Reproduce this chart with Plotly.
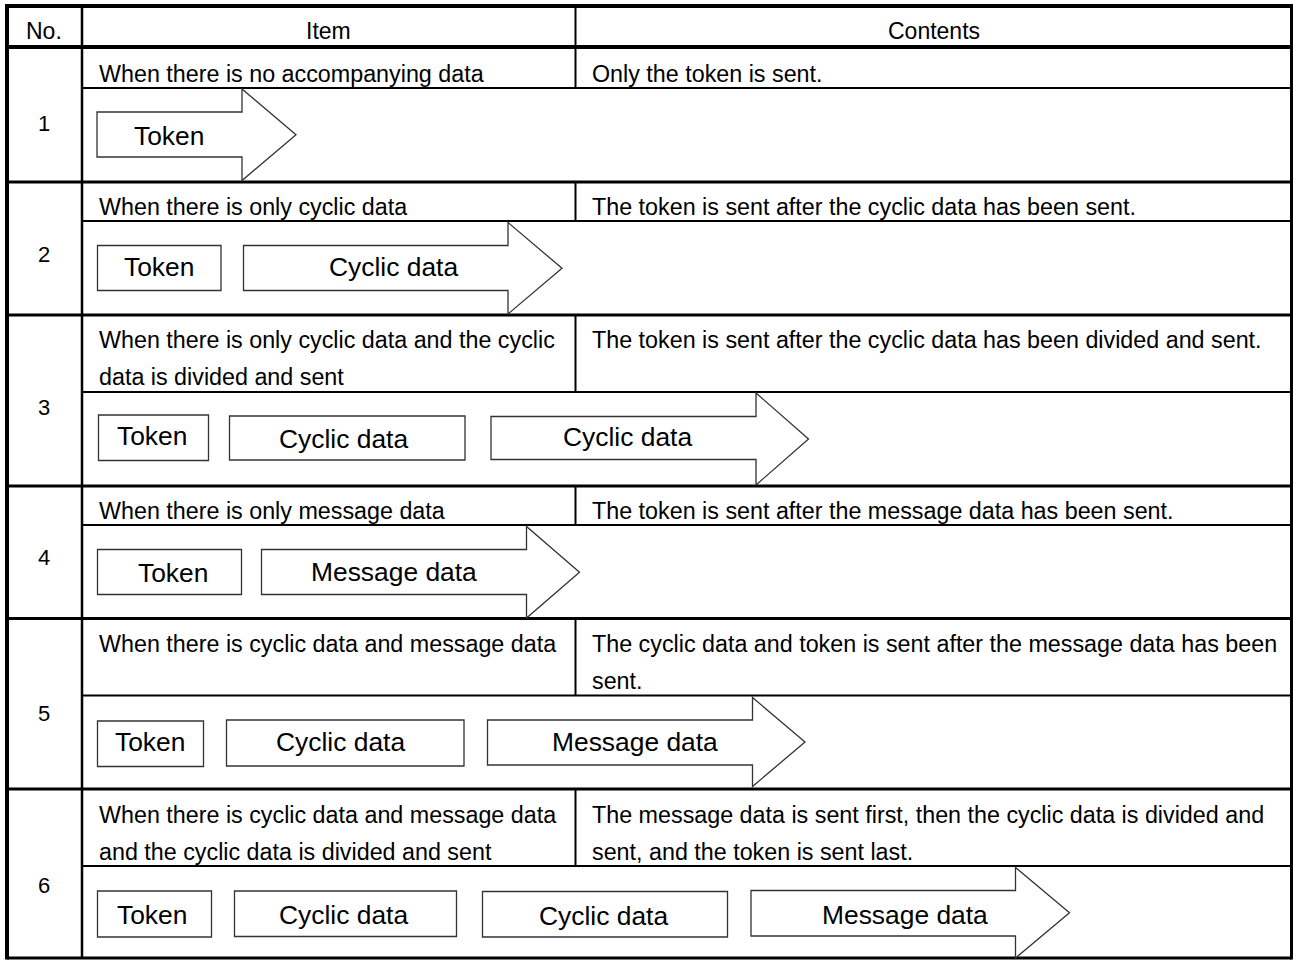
import plotly.graph_objects as go

# ---------------- data (text content) ----------------
headers = ["No.", "Item", "Contents"]
numbers = ["1", "2", "3", "4", "5", "6"]
items = [
    ["When there is no accompanying data"],
    ["When there is only cyclic data"],
    ["When there is only cyclic data and the cyclic", "data is divided and sent"],
    ["When there is only message data"],
    ["When there is cyclic data and message data"],
    ["When there is cyclic data and message data", "and the cyclic data is divided and sent"],
]
contents = [
    ["Only the token is sent."],
    ["The token is sent after the cyclic data has been sent."],
    ["The token is sent after the cyclic data has been divided and sent."],
    ["The token is sent after the message data has been sent."],
    ["The cyclic data and token is sent after the message data has been", "sent."],
    ["The message data is sent first, then the cyclic data is divided and",
     "sent, and the token is sent last."],
]
# frames in each row; the last one of each row is drawn as the arrow
sequences = [
    ["Token"],
    ["Token", "Cyclic data"],
    ["Token", "Cyclic data", "Cyclic data"],
    ["Token", "Message data"],
    ["Token", "Cyclic data", "Message data"],
    ["Token", "Cyclic data", "Cyclic data", "Message data"],
]

# ---------------- layout geometry (pixels) ----------------
W, H = 1293, 960
X0, X1, X2, X3 = 7, 82, 575.5, 1291.5
Y_TOP, Y_HEAD = 6, 47
# (row top, line under the item text, row bottom)
rows = [(47, 88, 182), (182, 221, 315), (315, 392, 486),
        (486, 525, 618.5), (618.5, 695.5, 789), (789, 866, 958)]
text_y = [[74], [207], [340, 376.5], [511], [644, 680.5], [815, 851.5]]
num_y = [123, 254, 407, 557, 713, 885]
# rectangles: (x0, x1, y0, y1)
boxes = [
    [],
    [(97.5, 221, 245.5, 290.5)],
    [(98.5, 208.5, 415, 460.5), (229.5, 465, 416, 460)],
    [(97.5, 241.5, 549.5, 594.5)],
    [(97.5, 203.5, 721, 766.5), (226.5, 464, 720, 766)],
    [(97.5, 211.5, 891, 937), (234.5, 456.5, 891, 936.5), (482.5, 727.5, 891.5, 937)],
]
# arrows: (left, body top, body bottom, head base x, head top, head bottom, tip x)
arrows = [
    (97, 112, 157, 242, 89, 180.5, 296),
    (243.5, 245.5, 290.5, 508, 222.5, 314, 562),
    (491, 416.5, 459.5, 756, 393, 485, 808.5),
    (261.5, 549.5, 594.5, 526.5, 526.5, 618, 579.5),
    (487.5, 720, 765, 752.5, 697.5, 786.5, 805),
    (751, 890.5, 936, 1015.5, 867.5, 958, 1069.5),
]
# label centres for each frame
label_pos = [
    [(169, 136)],
    [(159, 267), (393, 267)],
    [(152, 436), (343, 439), (627, 437)],
    [(173, 573), (394, 572)],
    [(150, 742), (340, 742), (635, 742)],
    [(152, 915), (343, 915), (603, 916), (905, 915)],
]

FONT = "Arial, 'Liberation Sans', sans-serif"
TXT = 23.3
HDR = 23
NUM = 22
LBL = 26.4

fig = go.Figure()
shapes = []
ann = []


def line(x0, y0, x1, y1, w):
    shapes.append(dict(type="line", xref="x", yref="y", x0=x0, y0=y0, x1=x1, y1=y1,
                       line=dict(color="black", width=w)))


# outer frame & header
line(X0, Y_TOP, X3, Y_TOP, 4)
line(X0, Y_TOP - 2, X0, rows[-1][2] + 1.5, 4)
line(X3, Y_TOP - 2, X3, rows[-1][2] + 1.5, 3)
line(X0, Y_HEAD, X3, Y_HEAD, 4)
line(X1, Y_TOP, X1, rows[-1][2], 2.5)
line(X2, Y_TOP, X2, Y_HEAD, 2)

for i, (top, mid, bot) in enumerate(rows):
    line(X0, bot, X3, bot, 3)
    line(X1, mid, X3, mid, 2)
    line(X2, top, X2, mid, 2)

# header texts
for txt, xc in zip(headers, [44, 328, 934]):
    ann.append(dict(x=xc, y=31, text=txt, showarrow=False, xanchor="center", yanchor="middle",
                    font=dict(family=FONT, size=HDR, color="black")))

for i in range(len(numbers)):
    ann.append(dict(x=44, y=num_y[i], text=numbers[i], showarrow=False, xanchor="center",
                    yanchor="middle", font=dict(family=FONT, size=NUM, color="black")))
    for k, t in enumerate(items[i]):
        ann.append(dict(x=97, y=text_y[i][k], text=t, showarrow=False, xanchor="left",
                        yanchor="middle", font=dict(family=FONT, size=TXT, color="black")))
    for k, t in enumerate(contents[i]):
        ann.append(dict(x=590, y=text_y[i][k], text=t, showarrow=False, xanchor="left",
                        yanchor="middle", font=dict(family=FONT, size=TXT, color="black")))
    # boxes
    for (bx0, bx1, by0, by1) in boxes[i]:
        shapes.append(dict(type="rect", xref="x", yref="y", x0=bx0, x1=bx1, y0=by0, y1=by1,
                           line=dict(color="#333333", width=1.3), fillcolor="white"))
    # arrow
    l, bt, bb, hx, ht, hb, tx = arrows[i]
    ty = (ht + hb) / 2
    path = (f"M{l},{bt} L{hx},{bt} L{hx},{ht} L{tx},{ty} L{hx},{hb} "
            f"L{hx},{bb} L{l},{bb} Z")
    shapes.append(dict(type="path", xref="x", yref="y", path=path,
                       line=dict(color="#333333", width=1.3), fillcolor="white"))
    for lab, (lx, ly) in zip(sequences[i], label_pos[i]):
        ann.append(dict(x=lx, y=ly, text=lab, showarrow=False, xanchor="center",
                        yanchor="middle", font=dict(family=FONT, size=LBL, color="black")))

fig.update_layout(
    width=W, height=H, margin=dict(l=0, r=0, t=0, b=0),
    paper_bgcolor="white", plot_bgcolor="white",
    xaxis=dict(range=[0, W], visible=False, fixedrange=True),
    yaxis=dict(range=[H, 0], visible=False, fixedrange=True),
    shapes=shapes, annotations=ann, showlegend=False,
)
fig.write_html("out.html", config={"displayModeBar": False},
               post_script="document.body.style.margin='0';document.body.style.overflow='hidden';")
